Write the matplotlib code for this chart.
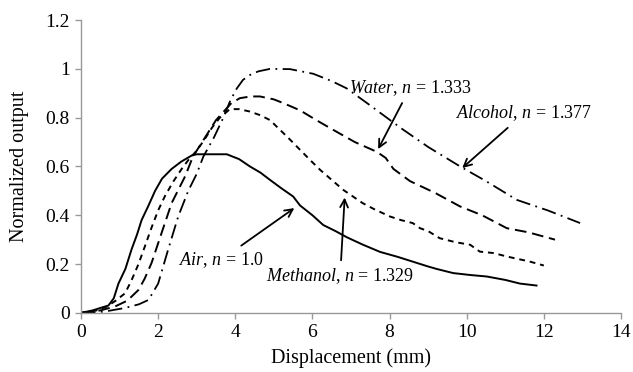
import matplotlib.pyplot as plt

plt.rcParams['font.family'] = ['Liberation Serif', 'DejaVu Serif']
plt.rcParams['mathtext.fontset'] = 'custom'
plt.rcParams['mathtext.rm'] = 'Liberation Serif'
plt.rcParams['mathtext.it'] = 'Liberation Serif:italic'

# normalized output vs displacement for each medium
air_x = [0, 0.3, 0.5, 0.71, 0.85, 0.97, 1.15, 1.31, 1.45, 1.57, 1.75, 1.92, 2.1, 2.35, 2.6,
         2.87, 3.0, 3.4, 3.78, 4.1, 4.38, 4.65, 4.9, 5.2, 5.5, 5.68, 6.0, 6.28, 6.6, 6.89,
         7.3, 7.75, 8.2, 8.6, 9.0, 9.22, 9.65, 10.1, 10.52, 11.0, 11.38, 11.81]
air_y = [0, 0.01, 0.02, 0.03, 0.06, 0.12, 0.18, 0.26, 0.32, 0.38, 0.44, 0.50, 0.55, 0.59, 0.62,
         0.645, 0.65, 0.65, 0.65, 0.63, 0.60, 0.575, 0.545, 0.51, 0.477, 0.44, 0.40, 0.36, 0.335, 0.31,
         0.28, 0.25, 0.23, 0.21, 0.19, 0.18, 0.163, 0.155, 0.149, 0.135, 0.12, 0.112]

meth_x = [0, 0.4, 0.67, 0.9, 1.14, 1.3, 1.49, 1.65, 1.83, 2.0, 2.18, 2.4, 2.61, 2.8, 3.0, 3.2,
          3.4, 3.6, 3.86, 4.1, 4.38, 4.65, 4.9, 5.16, 5.42, 5.68, 5.95, 6.2, 6.5, 6.8, 7.3, 7.6,
          8.01, 8.3, 8.6, 8.79, 9.0, 9.3, 9.7, 10.09, 10.34, 10.7, 11.04, 11.64, 12.0]
meth_y = [0, 0.01, 0.026, 0.05, 0.08, 0.13, 0.20, 0.27, 0.35, 0.42, 0.48, 0.54, 0.59, 0.63, 0.665, 0.71,
          0.76, 0.80, 0.835, 0.835, 0.825, 0.81, 0.79, 0.75, 0.71, 0.668, 0.625, 0.586, 0.545, 0.504, 0.45, 0.425,
          0.395, 0.38, 0.368, 0.347, 0.335, 0.306, 0.29, 0.279, 0.251, 0.245, 0.231, 0.21, 0.194]

water_x = [0, 0.5, 0.88, 1.2, 1.49, 1.65, 1.83, 2.09, 2.35, 2.7, 2.9, 3.1, 3.5, 3.9, 4.12, 4.4,
           4.64, 5.0, 5.24, 5.68, 6.1, 6.54, 7.1, 7.67, 7.9, 8.1, 8.53, 9.2, 9.83, 10.4, 11.04,
           11.6, 12.29]
water_y = [0, 0.01, 0.026, 0.05, 0.094, 0.14, 0.205, 0.328, 0.45, 0.56, 0.64, 0.69, 0.79, 0.86, 0.88, 0.887,
           0.887, 0.875, 0.86, 0.83, 0.79, 0.75, 0.70, 0.66, 0.635, 0.59, 0.54, 0.49, 0.436, 0.40, 0.347,
           0.33, 0.30]

alc_x = [0, 0.6, 1.14, 1.5, 1.75, 2.0, 2.26, 2.52, 2.78, 3.0, 3.17, 3.45, 3.69, 3.87, 4.04, 4.2,
         4.38, 4.6, 4.9, 5.42, 6.02, 6.5, 6.89, 7.5, 8.27, 9.0, 9.83, 10.5, 11.3, 12.1, 12.94]
alc_y = [0, 0.005, 0.02, 0.035, 0.053, 0.12, 0.26, 0.395, 0.50, 0.57, 0.64, 0.72, 0.80, 0.87, 0.92, 0.955,
         0.975, 0.99, 1.0, 0.999, 0.98, 0.95, 0.92, 0.85, 0.76, 0.68, 0.60, 0.54, 0.463, 0.42, 0.368]

fig = plt.figure(figsize=(6.33, 3.72), dpi=100)
ax = fig.add_axes([0.128, 0.159, 0.853, 0.787])

ax.plot(air_x, air_y, color='black', lw=1.4, ls='-')
ax.plot(meth_x, meth_y, color='black', lw=1.4, ls=(0, (3, 2.5)))
ax.plot(water_x, water_y, color='black', lw=1.4, ls=(0, (6, 3)))
ax.plot(alc_x, alc_y, color='black', lw=1.3, ls=(0, (8, 3, 1, 3)))

ax.set_xlim(0, 14)
ax.set_ylim(0, 1.2)
ax.set_xticks(range(0, 15, 2))
ax.set_yticks([0, 0.2, 0.4, 0.6, 0.8, 1.0, 1.2])
ax.set_yticklabels(['0', '0.2', '0.4', '0.6', '0.8', '1', '1.2'])

for s in ['top', 'right']:
    ax.spines[s].set_visible(False)
for s in ['left', 'bottom']:
    ax.spines[s].set_color('#999999')
    ax.spines[s].set_linewidth(1.0)
ax.tick_params(colors='#999999', labelcolor='black', labelsize=14, length=4, width=1, pad=4)

ax.set_xlabel('Displacement (mm)', fontsize=14.5, labelpad=5)
ax.set_ylabel('Normalized output', fontsize=14.5, labelpad=12)

arrow = dict(arrowstyle='->', color='black', lw=1.3, mutation_scale=14)
ax.annotate(r'$\mathit{Water}$, $\mathit{n}$ = 1.333', xy=(7.67, 0.661), xytext=(8.53, 0.922),
            ha='center', va='center', fontsize=13, arrowprops=arrow)
ax.annotate(r'$\mathit{Alcohol}$, $\mathit{n}$ = 1.377', xy=(9.83, 0.586), xytext=(11.49, 0.818),
            ha='center', va='center', fontsize=13, arrowprops=arrow)
ax.annotate(r'$\mathit{Air}$, $\mathit{n}$ = 1.0', xy=(5.59, 0.436), xytext=(3.63, 0.217),
            ha='center', va='center', fontsize=13, arrowprops=arrow)
ax.annotate(r'$\mathit{Methanol}$, $\mathit{n}$ = 1.329', xy=(6.84, 0.484), xytext=(6.72, 0.152),
            ha='center', va='center', fontsize=13, arrowprops=arrow)

fig.savefig('out.png', dpi=100)
